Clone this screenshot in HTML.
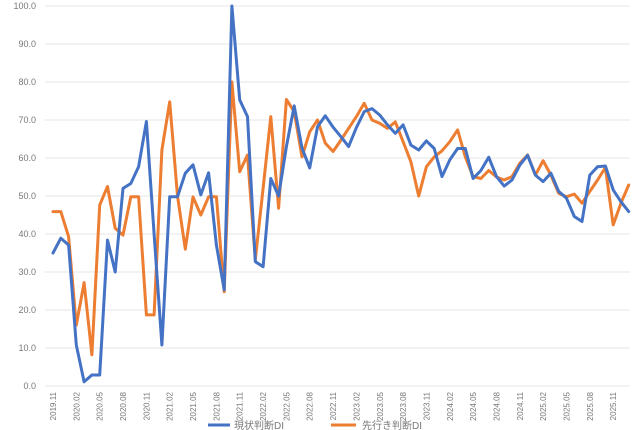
<!DOCTYPE html>
<html><head><meta charset="utf-8">
<style>
html,body{margin:0;padding:0;background:#fff;}
svg{display:block;font-family:"Liberation Sans","Noto Sans CJK JP",sans-serif;}
</style></head>
<body>
<svg id="chart" width="640" height="430" viewBox="0 0 640 430" xmlns="http://www.w3.org/2000/svg">
<g id="grid"></g>
<g id="yaxis"></g>
<g id="xaxis"></g>
<g id="series"></g>
<g id="legend">
  <line x1="208" y1="425" x2="230" y2="425" stroke="#4472C4" stroke-width="3"/>
  <text x="234" y="429" font-size="10" fill="#777">現状判断DI</text>
  <line x1="331" y1="425" x2="356" y2="425" stroke="#ED7D31" stroke-width="3"/>
  <text x="362" y="429" font-size="10" fill="#777">先行き判断DI</text>
</g>
</svg>
<script>
const yTicks = [0,10,20,30,40,50,60,70,80,90,100];
const xLabels = ["2019.11","2020.02","2020.05","2020.08","2020.11","2021.02","2021.05","2021.08","2021.11","2022.02","2022.05","2022.08","2022.11","2023.02","2023.05","2023.08","2023.11","2024.02","2024.05","2024.08","2024.11","2025.02","2025.05","2025.08","2025.11"];
const currentDI = [35,38.9,37.1,10.8,1.1,2.9,2.9,38.4,30,52,53.3,57.7,69.6,40,10.8,49.8,49.8,56,58.2,50.3,56.1,37.1,25.3,100,75.3,70.9,32.7,31.4,54.6,50,63,73.7,62.6,57.4,68.2,71.1,68.1,65.6,63,68,72.2,73,71.3,68.7,66.5,68.7,63.4,62.1,64.5,62.5,55.1,59.5,62.5,62.5,54.6,56.7,60.2,55.1,52.6,54.2,58.1,60.7,55.5,53.8,56,51.2,49.4,44.6,43.3,55.5,57.7,57.9,51.6,48.5,45.9];
const outlookDI = [45.9,45.9,39.3,16,27.2,8.2,47.6,52.5,41.5,39.7,49.8,49.8,18.7,18.7,62.1,74.8,50,36,49.8,45,49.8,49.8,24.8,80,56.4,60.8,33.2,52,70.9,46.8,75.4,72.2,60.3,66.9,70,63.9,61.7,64.7,67.8,70.9,74.4,70,69.1,67.8,69.5,64.3,59,50,57.7,60.3,61.9,64.3,67.4,60.3,55.1,54.6,56.7,55,54.2,55.1,58.6,60.8,55.5,59.3,55.5,50.7,49.8,50.5,48.1,51.2,54.2,57.5,42.4,48.1,52.9];

const NS="http://www.w3.org/2000/svg";
const X0=53, DX=7.78, Y0=386, YS=3.8;
function xPos(i){return X0+i*DX;}
function yPos(v){return Y0-v*YS;}
function mk(tag,attrs,parent){const e=document.createElementNS(NS,tag);for(const k in attrs)e.setAttribute(k,attrs[k]);parent.appendChild(e);return e;}

const grid=document.getElementById('grid'), ya=document.getElementById('yaxis'), xa=document.getElementById('xaxis'), ser=document.getElementById('series');
yTicks.forEach(v=>{
  const l=mk('line',{x1:45,x2:630,y1:yPos(v),y2:yPos(v),stroke:'#e6e6e6','stroke-width':1},grid);
  
  
  const t=mk('text',{x:36,y:yPos(v)+3,'text-anchor':'end','font-size':9,fill:'#777'},ya);
  
  
  t.textContent=v.toFixed(1);
});
xLabels.forEach((s,k)=>{
  const x=xPos(k*3)+3;
  const t=mk('text',{x:x,y:392,'text-anchor':'end','font-size':8,fill:'#777',transform:'rotate(-90 '+x+' 392)'},xa);
  
  
  t.textContent=s;
});
function drawLine(arr,color,name){
  const pts=arr.map((v,i)=>xPos(i).toFixed(1)+','+yPos(v).toFixed(1)).join(' ');
  const p=mk('polyline',{points:pts,fill:'none',stroke:color,'stroke-width':3,'stroke-linejoin':'round','stroke-linecap':'round'},ser);
  
  
}
drawLine(outlookDI,'#ED7D31','outlook-di-line');
drawLine(currentDI,'#4472C4','current-di-line');
</script>
</body></html>
